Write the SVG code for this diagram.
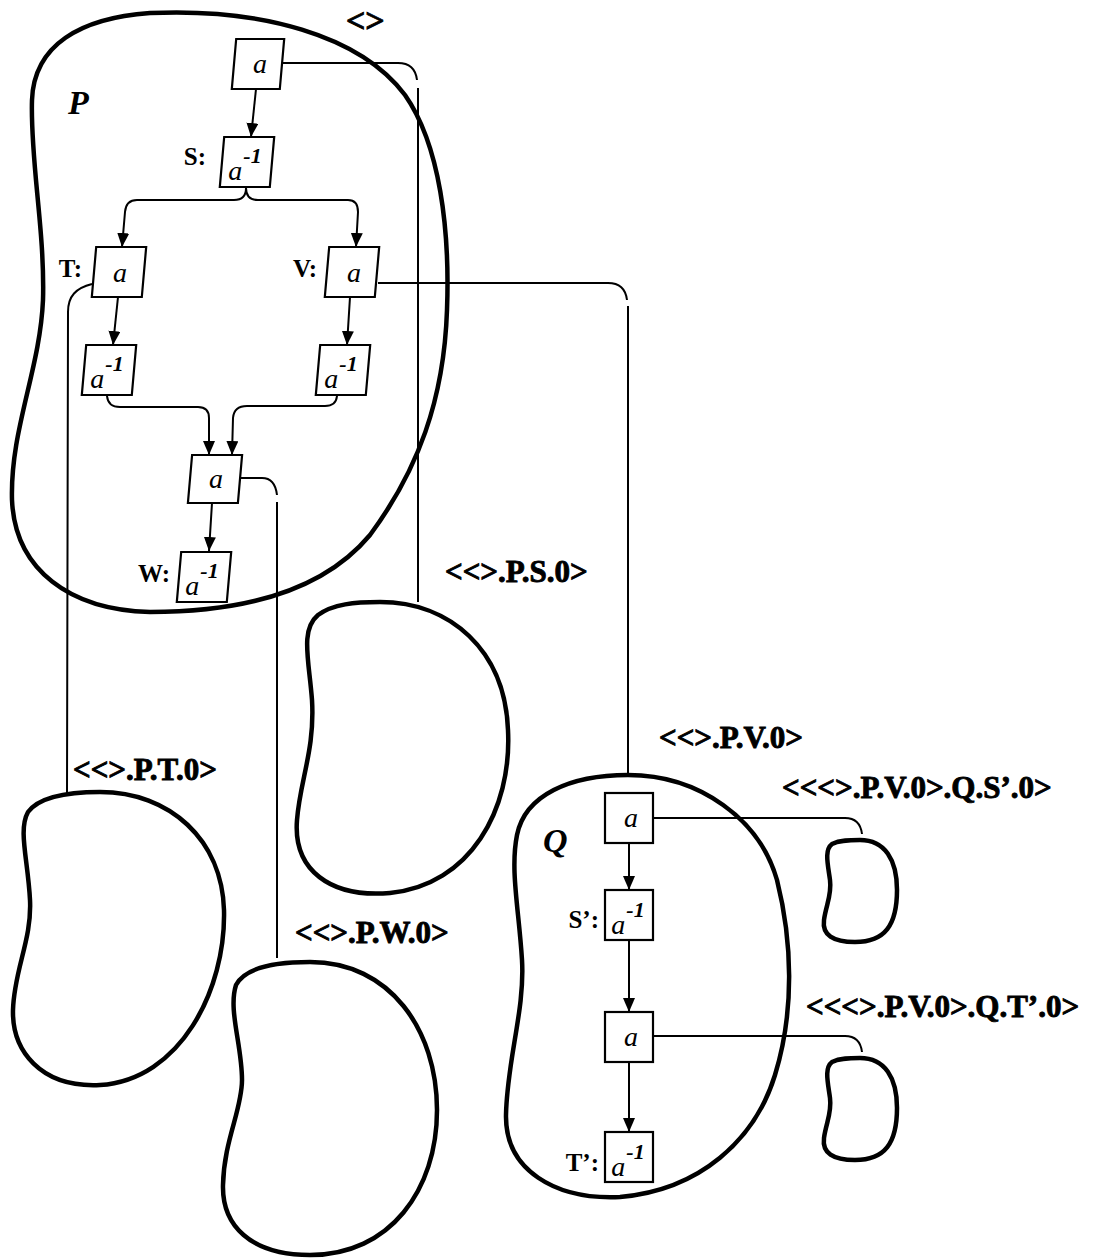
<svg xmlns="http://www.w3.org/2000/svg" width="1093" height="1259" viewBox="0 0 1093 1259">
<defs>
<style>
.blob{fill:none;stroke:#000;stroke-width:4.5;stroke-linejoin:round}
.box{fill:#fff;stroke:#000;stroke-width:2.2}
.ln{fill:none;stroke:#000;stroke-width:2}
.arr{fill:none;stroke:#000;stroke-width:2;marker-end:url(#ah)}
.t{font-family:"Liberation Serif",serif;font-style:italic;font-size:28px;fill:#000}
.sup{font-size:22px;font-weight:bold}
.lab{font-family:"Liberation Serif",serif;font-weight:bold;font-size:25px;fill:#000}
.name{font-family:"Liberation Serif",serif;font-weight:bold;font-style:italic;font-size:34px;fill:#000}
.tag{font-family:"Liberation Serif",serif;font-weight:bold;font-size:31px;fill:#000;stroke:#000;stroke-width:0.9}
</style>
<marker id="ah" markerUnits="userSpaceOnUse" markerWidth="14" markerHeight="12" refX="14" refY="6" orient="auto">
<path d="M0,0 L14,6 L0,12 Z" fill="#000"/>
</marker>
</defs>
<rect width="1093" height="1259" fill="#fff"/>

<g id="blobs">
<path id="blob-P" class="blob" d="M150,13 C260,8 360,35 405,95 C440,145 450,230 447,310 C444,400 418,470 370,535 C320,595 235,612 150,612 C70,610 15,570 12,500 C10,430 40,370 43,300 C45,230 30,160 32,100 C34,45 80,18 150,13 Z"/>
<path id="blob-S0" class="blob" d="M380,602 C450,602 505,650 508,730 C512,810 470,885 390,893 C330,898 293,870 297,820 C300,780 315,750 312,700 C309,660 300,630 318,615 C333,604 355,602 380,602 Z"/>
<path id="blob-T0" class="blob" d="M100,792 C170,792 222,840 224,910 C226,990 180,1080 100,1085 C40,1088 12,1050 13,1010 C14,970 32,940 30,900 C28,860 18,830 28,812 C40,796 70,792 100,792 Z"/>
<path id="blob-W0" class="blob" d="M310,962 C390,962 437,1030 437,1110 C437,1190 390,1255 310,1255 C250,1255 222,1225 223,1185 C224,1140 242,1110 242,1080 C242,1045 228,1010 236,985 C245,968 275,962 310,962 Z"/>
<path id="blob-Q" class="blob" d="M628,775 C700,775 760,820 777,880 C792,940 795,1010 775,1075 C755,1140 700,1190 620,1197 C555,1200 505,1170 506,1115 C507,1060 525,1010 522,960 C519,910 510,870 517,835 C525,795 570,775 628,775 Z"/>
<path id="blob-QS0" class="blob" d="M860,840 C885,840 897,860 897,890 C897,925 885,942 855,942 C833,942 822,935 824,920 C826,905 832,895 830,880 C828,865 824,850 832,844 C840,840 850,840 860,840 Z"/>
<path id="blob-QT0" class="blob" d="M860,1058 C885,1058 897,1078 897,1108 C897,1143 885,1160 855,1160 C833,1160 822,1153 824,1138 C826,1123 832,1113 830,1098 C828,1083 824,1068 832,1062 C840,1058 850,1058 860,1058 Z"/>
</g>

<g id="connectors">
<path class="arr" d="M256,89 L251,137"/>
<path class="arr" d="M246,188 Q246,200 234,200 L137,200 Q126,200 125,212 L122,247"/>
<path class="arr" d="M246,188 Q246,200 258,200 L348,200 Q358,200 358,212 L356,247"/>
<path class="arr" d="M118,297 L113,345"/>
<path class="arr" d="M350,297 L347,345"/>
<path class="arr" d="M107,396 Q108,407 120,407 L198,407 Q209,407 209,418 L209,455"/>
<path class="arr" d="M337,396 Q336,406 325,406 L247,406 Q234,406 233,418 L232,455"/>
<path class="arr" d="M212,503 L209,551"/>
<path class="ln" d="M283,63 L398,63 Q415,63 417,80"/>
<path class="ln" d="M418,88 L418,602"/>
<path class="ln" d="M92,284 C76,288 68,296 68,312 L67,793"/>
<path class="ln" d="M378,283 L608,283 Q625,283 627,300"/>
<path class="ln" d="M628,306 L628,775"/>
<path class="ln" d="M240,478 L262,478 Q275,478 277,495"/>
<path class="ln" d="M277,502 L277,958"/>
<path class="arr" d="M629,843 L629,890"/>
<path class="arr" d="M629,940 L629,1012"/>
<path class="arr" d="M629,1062 L629,1132"/>
<path class="ln" d="M653,818 L845,818 Q860,818 862,834"/>
<path class="ln" d="M653,1036 L845,1036 Q860,1036 862,1052"/>
</g>

<g id="node-A1">
<rect class="box" x="-24" y="-25" width="48" height="50" transform="translate(258 64) skewX(-5)"/>
<text class="t" x="260" y="73" text-anchor="middle">a</text>
</g>
<g id="node-S">
<rect class="box" x="-25" y="-25" width="50" height="50" transform="translate(247 162) skewX(-5)"/>
<text class="t" x="245" y="180" text-anchor="middle">a<tspan class="sup" dx="1" dy="-17">-1</tspan></text>
<text class="lab" x="206" y="165" text-anchor="end">S:</text>
</g>
<g id="node-T">
<rect class="box" x="-25" y="-25" width="50" height="50" transform="translate(119 272) skewX(-5)"/>
<text class="t" x="120" y="282" text-anchor="middle">a</text>
<text class="lab" x="82" y="277" text-anchor="end">T:</text>
</g>
<g id="node-V">
<rect class="box" x="-25" y="-25" width="50" height="50" transform="translate(352 272) skewX(-5)"/>
<text class="t" x="354" y="282" text-anchor="middle">a</text>
<text class="lab" x="317" y="277" text-anchor="end">V:</text>
</g>
<g id="node-Tinv">
<rect class="box" x="-25" y="-25" width="50" height="50" transform="translate(109 370) skewX(-5)"/>
<text class="t" x="107" y="388" text-anchor="middle">a<tspan class="sup" dx="1" dy="-17">-1</tspan></text>
</g>
<g id="node-Vinv">
<rect class="box" x="-25" y="-25" width="50" height="50" transform="translate(343 370) skewX(-5)"/>
<text class="t" x="341" y="388" text-anchor="middle">a<tspan class="sup" dx="1" dy="-17">-1</tspan></text>
</g>
<g id="node-M">
<rect class="box" x="-25" y="-24" width="50" height="48" transform="translate(215 479) skewX(-5)"/>
<text class="t" x="216" y="488" text-anchor="middle">a</text>
</g>
<g id="node-W">
<rect class="box" x="-25" y="-25" width="50" height="50" transform="translate(204 577) skewX(-5)"/>
<text class="t" x="202" y="595" text-anchor="middle">a<tspan class="sup" dx="1" dy="-17">-1</tspan></text>
<text class="lab" x="170" y="582" text-anchor="end">W:</text>
</g>

<g id="node-QA1">
<rect class="box" x="605" y="793" width="48" height="50"/>
<text class="t" x="631" y="827" text-anchor="middle">a</text>
</g>
<g id="node-Sp">
<rect class="box" x="605" y="890" width="48" height="50"/>
<text class="t" x="628" y="934" text-anchor="middle">a<tspan class="sup" dx="1" dy="-17">-1</tspan></text>
<text class="lab" x="599" y="928" text-anchor="end">S’:</text>
</g>
<g id="node-QA2">
<rect class="box" x="605" y="1012" width="48" height="50"/>
<text class="t" x="631" y="1046" text-anchor="middle">a</text>
</g>
<g id="node-Tp">
<rect class="box" x="605" y="1132" width="48" height="50"/>
<text class="t" x="628" y="1176" text-anchor="middle">a<tspan class="sup" dx="1" dy="-17">-1</tspan></text>
<text class="lab" x="599" y="1171" text-anchor="end">T’:</text>
</g>

<g id="labels">
<text class="name" x="68" y="114">P</text>
<text class="name" x="543" y="852">Q</text>
<text class="tag" x="346" y="32" style="font-size:34px">&lt;&gt;</text>
<text class="tag" x="445" y="582">&lt;&lt;&gt;.P.S.0&gt;</text>
<text class="tag" x="73" y="780">&lt;&lt;&gt;.P.T.0&gt;</text>
<text class="tag" x="295" y="943">&lt;&lt;&gt;.P.W.0&gt;</text>
<text class="tag" x="659" y="748">&lt;&lt;&gt;.P.V.0&gt;</text>
<text class="tag" x="782" y="798">&lt;&lt;&lt;&gt;.P.V.0&gt;.Q.S’.0&gt;</text>
<text class="tag" x="806" y="1017">&lt;&lt;&lt;&gt;.P.V.0&gt;.Q.T’.0&gt;</text>
</g>
</svg>
